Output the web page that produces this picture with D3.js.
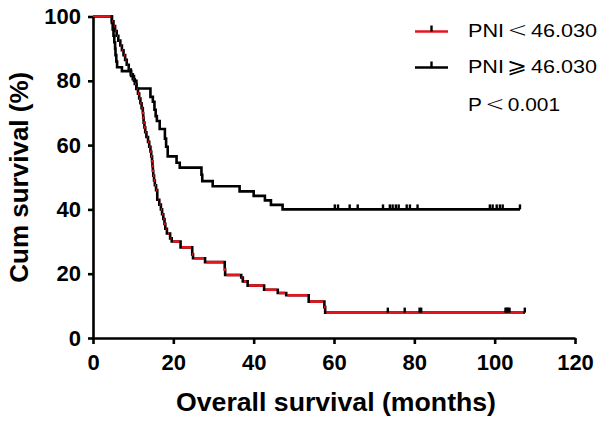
<!DOCTYPE html>
<html>
<head>
<meta charset="utf-8">
<script src="https://cdn.jsdelivr.net/npm/d3@7"></script>
<style>
  html, body { margin: 0; padding: 0; background: #fff; }
  svg { display: block; }
</style>
</head>
<body>
<script>
// ---------------- data ----------------
const xTicks = [0, 20, 40, 60, 80, 100, 120];
const yTicks = [0, 20, 40, 60, 80, 100];

// legend labels: [prefix, relation symbol, value]
const groupLabels = [["PNI", "<", "46.030"], ["PNI", "\u2A7E", "46.030"]];
const pLabel = ["P", "<", "0.001"];

// PNI < 46.030 (red): event times (months) and survival (%) after each step
const lowTimes = [4.7, 5.1, 5.5, 5.9, 6.3, 6.8, 7.2, 7.6, 8.0, 8.4, 8.9, 9.4, 9.9, 10.4, 10.8, 11.2,
  11.5, 11.8, 12.1, 12.4, 12.5, 12.6, 12.8, 13.0, 13.3, 13.7, 14.0, 14.3, 14.5, 14.7, 14.8, 14.9,
  15.0, 15.2, 15.4, 15.7, 16.0, 16.5, 16.9, 17.2, 17.5, 17.8, 18.0, 18.4, 19.2, 19.6, 21.8, 24.7,
  24.9, 27.9, 32.8, 32.9, 36.9, 37.3, 38.5, 42.6, 46.0, 48.1, 53.7, 57.6, 57.8];
const lowSurv = [98.5, 97, 95.5, 94, 92.5, 91, 89.5, 88, 86.5, 85, 83.5, 82, 80.5, 79, 77.5, 76,
  74.5, 73, 71.5, 70, 68.5, 67, 65.5, 64, 62.5, 61, 59.5, 58, 56.5, 55, 53.5, 52,
  50.5, 49, 47.5, 46, 43, 41.5, 40, 38.5, 37, 35.5, 34, 32.5, 31, 30, 28.2, 26,
  24.8, 23.6, 21.3, 19.6, 18.8, 17.6, 16.3, 15.0, 14.0, 13.3, 11.3, 9.6, 7.9];
const lowCensored = [73.4, 77.6, 81.3, 81.7, 102.7, 103.0, 103.3, 103.7, 107.5];
const lowEnd = 107.5;

// PNI >= 46.030 (black)
const highTimes = [4.7, 4.9, 5.1, 5.3, 5.5, 5.6, 5.8, 6.0, 7.2, 9.5, 10.2, 10.8, 14.3, 14.9, 15.3,
  15.6, 15.9, 16.6, 17.9, 18.2, 18.6, 20.8, 21.6, 27.0, 27.2, 29.8, 36.5, 40.0, 42.8, 44.3, 47.2];
const highSurv = [98, 96, 94, 92, 90, 88, 86, 84.2, 83, 81.5, 80, 77.6, 75, 73.5, 71,
  69, 67.5, 65, 62, 59.5, 56.5, 54.5, 53, 50.8, 48.8, 47.2, 45.6, 44.2, 42.8, 41.4, 40];
const highCensored = [60.2, 61.0, 63.9, 65.9, 72.2, 73.9, 74.6, 75.4, 76.1, 78.1, 78.9, 80.8,
  98.8, 99.5, 100.5, 101.3, 102.0, 106.3];
const highEnd = 106.3;

const redColor = "#e8141b";

// ---------------- layout ----------------
const W = 602, H = 422;
const x0 = 93, x1 = 575, y0 = 338, y1 = 16.5;

const svg = d3.select("body").append("svg")
  .attr("width", W).attr("height", H)
  .style("font-family", "Arial, 'Liberation Sans', Helvetica, sans-serif");

const x = d3.scaleLinear().domain([0, 120]).range([x0, x1]);
const y = d3.scaleLinear().domain([0, 100]).range([y0, y1]);

function stepPoints(times, surv, end) {
  const pts = [[0, 100]];
  times.forEach((t, i) => pts.push([t, surv[i]]));
  pts.push([end, surv[surv.length - 1]]);
  return pts;
}
function survAt(times, surv, t) {
  let s = 100;
  for (let i = 0; i < times.length; i++) if (times[i] <= t) s = surv[i];
  return s;
}

const line = d3.line().x(d => x(d[0])).y(d => y(d[1])).curve(d3.curveStepAfter);
const lw = 2.6;
const tickH = 5;

// black group
const highPts = stepPoints(highTimes, highSurv, highEnd);
svg.append("path").attr("d", line(highPts))
  .attr("fill", "none").attr("stroke", "#000").attr("stroke-width", lw);

// red group: full step path in black (verticals), horizontals overlaid in red
const lowPts = stepPoints(lowTimes, lowSurv, lowEnd);
svg.append("path").attr("d", line(lowPts))
  .attr("fill", "none").attr("stroke", "#000").attr("stroke-width", lw);
const horiz = [];
for (let i = 0; i < lowPts.length - 1; i++) horiz.push([lowPts[i][0], lowPts[i + 1][0], lowPts[i][1]]);
svg.append("g").selectAll("line").data(horiz).join("line")
  .attr("x1", d => x(d[0]) + (d[0] === 0 ? 0 : 1.2)).attr("x2", d => x(d[1]) - 1.2)
  .attr("y1", d => y(d[2])).attr("y2", d => y(d[2]))
  .attr("stroke", redColor).attr("stroke-width", lw);

// censor ticks
function censor(times, surv, cens) {
  svg.append("g").selectAll("line").data(cens).join("line")
    .attr("x1", d => x(d)).attr("x2", d => x(d))
    .attr("y1", d => y(survAt(times, surv, d)))
    .attr("y2", d => y(survAt(times, surv, d)) - tickH)
    .attr("stroke", "#000").attr("stroke-width", 2.4);
}
censor(highTimes, highSurv, highCensored);
censor(lowTimes, lowSurv, lowCensored);

// ---------------- axes ----------------
const xAxis = svg.append("g").attr("transform", `translate(0,${y0})`)
  .call(d3.axisBottom(x).tickValues(xTicks).tickSize(6).tickSizeOuter(0).tickPadding(10).tickFormat(d3.format("d")));
const yAxis = svg.append("g").attr("transform", `translate(${x0},0)`)
  .call(d3.axisLeft(y).tickValues(yTicks).tickSize(5).tickSizeOuter(0).tickPadding(7).tickFormat(d3.format("d")));
[xAxis, yAxis].forEach(a => {
  a.selectAll("path, line").attr("stroke", "#000").attr("stroke-width", 2.6);
  a.selectAll("text").attr("fill", "#000")
    .style("font-size", "22px").style("font-weight", "bold")
    .style("font-family", "Arial, 'Liberation Sans', sans-serif");
});

// axis titles
svg.append("text").attr("x", (x0 + x1) / 2 + 2).attr("y", 411)
  .attr("text-anchor", "middle").style("font-size", "26px").style("font-weight", "bold")
  .attr("textLength", 320).attr("lengthAdjust", "spacingAndGlyphs")
  .text("Overall survival (months)");
svg.append("text").attr("transform", `translate(28,${(y0 + y1) / 2}) rotate(-90)`)
  .attr("text-anchor", "middle").style("font-size", "26px").style("font-weight", "bold")
  .text("Cum survival (%)");

// ---------------- legend ----------------
const legend = svg.append("g");
function legendText(parts, ty, len) {
  const t = legend.append("text").attr("x", 468).attr("y", ty)
    .style("font-size", "19px").attr("fill", "#000")
    .attr("textLength", len).attr("lengthAdjust", "spacingAndGlyphs");
  t.append("tspan").text(parts[0]);
  t.append("tspan").attr("dx", 3)
    .style("font-family", "'DejaVu Sans', sans-serif").style("font-size", "21px")
    .style("font-weight", "200").text(parts[1]);
  t.append("tspan").attr("dx", 3).text(parts[2]);
}
const legRows = [
  { parts: groupLabels[0], color: redColor, ly: 31.5, ty: 37 },
  { parts: groupLabels[1], color: "#000", ly: 67.5, ty: 73 }
];
legRows.forEach(r => {
  legend.append("line").attr("x1", 415).attr("x2", 448).attr("y1", r.ly).attr("y2", r.ly)
    .attr("stroke", r.color).attr("stroke-width", lw);
  legend.append("line").attr("x1", 431.5).attr("x2", 431.5).attr("y1", r.ly).attr("y2", r.ly - 6)
    .attr("stroke", "#000").attr("stroke-width", 2.4);
  legendText(r.parts, r.ty, 129);
});
legendText(pLabel, 111, 92);
</script>
</body>
</html>
